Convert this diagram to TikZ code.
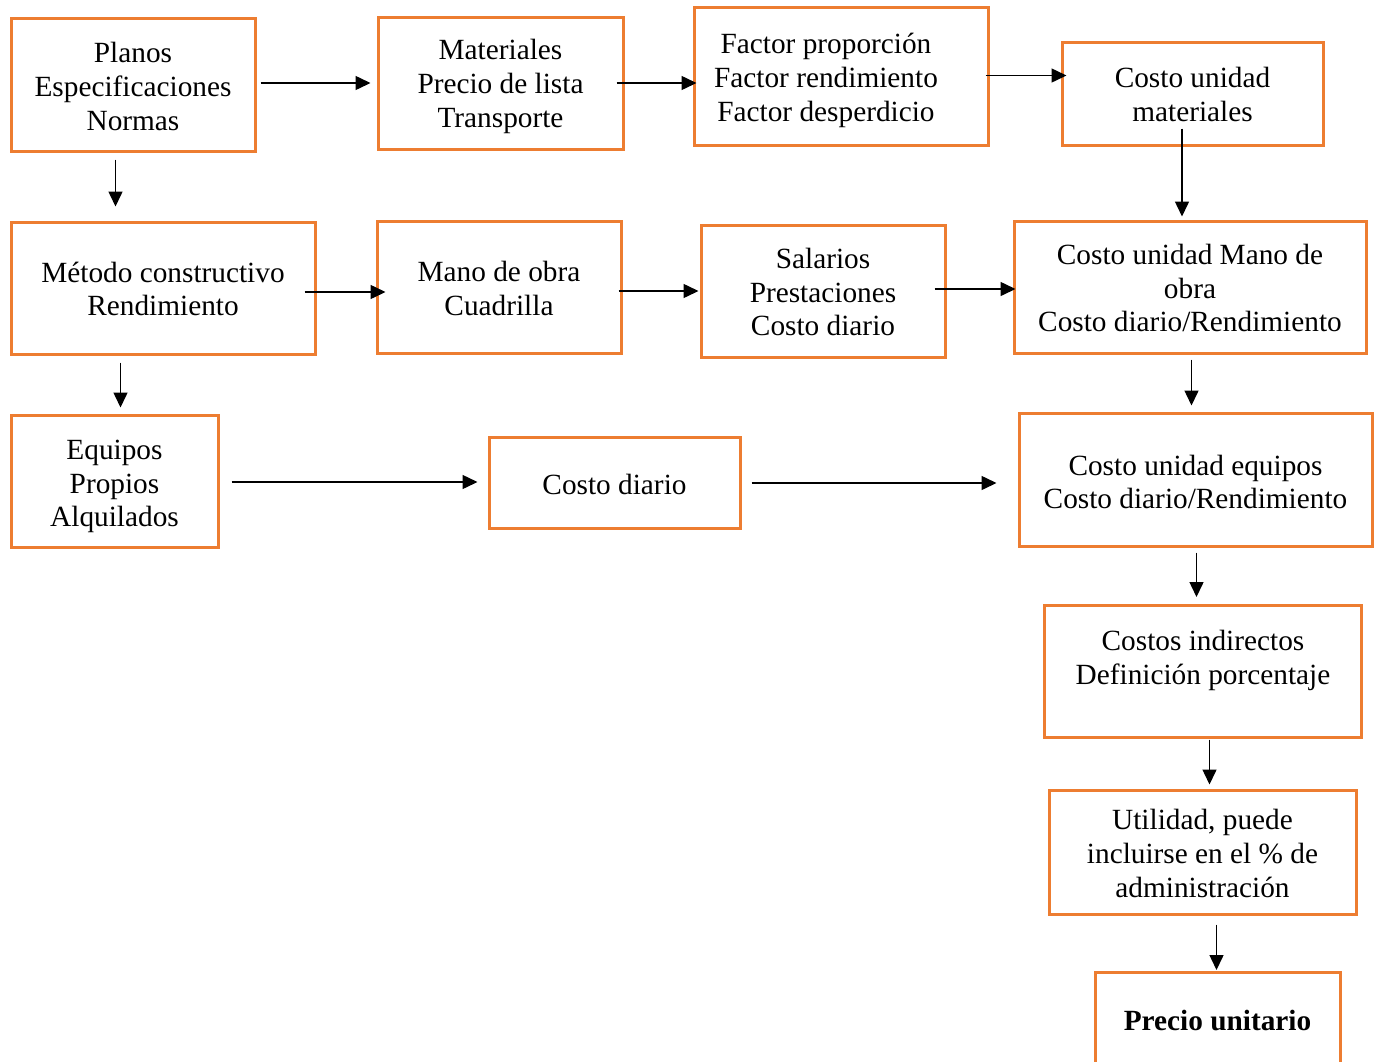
\documentclass[tikz,border=0pt]{standalone}
\usepackage{fontspec}
\setmainfont{Liberation Serif}
\usetikzlibrary{arrows.meta,calc}
\definecolor{boxorange}{HTML}{ED7D31}
\tikzset{
  box/.style={draw=boxorange, line width=3pt, inner sep=0pt},
  txt/.style={align=center, inner sep=0pt, font=\fontsize{29.3}{33.8}\selectfont},
  arr/.style={line width=1.5pt, -{Triangle[length=15pt,width=14pt]}},
}
\begin{document}
\begin{tikzpicture}[x=1pt,y=-1pt]
\useasboundingbox (0,0) rectangle (1379,1061);
\clip (0,0) rectangle (1379,1061);

% first row
\node[box, minimum width=244pt, minimum height=133pt,
      label={[txt, yshift=-2pt]center:{Planos\\Especificaciones\\Normas}}]
  (planos) at (133,84.5) {};
\node[box, minimum width=245pt, minimum height=132pt,
      label={[txt, yshift=-3.5pt]center:{Materiales\\Precio de lista\\Transporte}}]
  (mat) at (500.5,83) {};
\node[box, minimum width=294pt, minimum height=138pt,
      label={[txt, xshift=-15pt, yshift=-4.5pt]center:{Factor proporción\\Factor rendimiento\\Factor desperdicio}}]
  (factor) at (841,76) {};
\node[box, minimum width=261pt, minimum height=103pt,
      label={[txt, yshift=-1pt]center:{Costo unidad\\materiales}}]
  (cmat) at (1192.5,93.5) {};

% second row
\node[box, minimum width=304pt, minimum height=132pt,
      label={[txt, yshift=-1pt]center:{Método constructivo\\Rendimiento}}]
  (metodo) at (163,288) {};
\node[box, minimum width=244pt, minimum height=132pt,
      label={[txt, yshift=-1.5pt]center:{Mano de obra\\Cuadrilla}}]
  (mano) at (499,287) {};
\node[box, minimum width=244pt, minimum height=132pt,
      label={[txt, yshift=-1pt]center:{Salarios\\Prestaciones\\Costo diario}}]
  (sal) at (823,291) {};
\node[box, minimum width=352pt, minimum height=132pt,
      label={[txt, yshift=-1pt]center:{Costo unidad Mano de\\obra\\Costo diario/Rendimiento}}]
  (cumo) at (1190,287) {};

% third row
\node[box, minimum width=207pt, minimum height=132pt,
      label={[txt, yshift=-5.5pt]center:{Equipos\\Propios\\Alquilados}}]
  (equipos) at (114.5,481) {};
\node[box, minimum width=251pt, minimum height=91pt,
      label={[txt, yshift=-2pt]center:{Costo diario}}]
  (cdiario) at (614.5,482.5) {};
\node[box, minimum width=353pt, minimum height=133pt,
      label={[txt, yshift=-2.5pt]center:{Costo unidad equipos\\Costo diario/Rendimiento}}]
  (cue) at (1195.5,479.5) {};

% right-hand column
\node[box, minimum width=317pt, minimum height=132pt,
      label={[txt, yshift=11pt]center:{Costos indirectos\\Definición porcentaje}}]
  (ci) at (1203,671.5) {};
\node[box, minimum width=307pt, minimum height=124pt,
      label={[txt, yshift=-1.5pt]center:{Utilidad, puede\\incluirse en el \% de\\administración}}]
  (util) at (1202.5,852) {};
\node[box, minimum width=245pt, minimum height=96pt,
      label={[txt]center:{\textbf{Precio unitario}}}]
  (precio) at (1217.5,1020) {};

% connectors
\draw[arr] ($(planos.east)+(4,-1.5)$) -- ($(planos.east -| mat.west)+(-6,-1.5)$);
\draw[arr] ($(mat.east)+(-8,0)$) -- ($(mat.east -| factor.west)+(4,0)$);
\draw[arr] ($(factor.east)+(-4,-0.5)$) -- ($(factor.east -| cmat.west)+(6,-0.5)$);
\draw[arr] ($(cmat.south)+(-10.5,-18)$) -- ($(cmat.south |- cumo.north)+(-10.5,-3)$);
\draw[arr] ($(planos.south)+(-17.5,7)$) -- ($(planos.south |- metodo.north)+(-17.5,-14)$);
\draw[arr] ($(metodo.east)+(-12,4)$) -- ($(metodo.east -| mano.west)+(10,4)$);
\draw[arr] ($(mano.east)+(-4,4)$) -- ($(mano.east -| sal.west)+(-1,4)$);
\draw[arr] ($(sal.east)+(-12,-2)$) -- ($(sal.east -| cumo.west)+(3,-2)$);
\draw[arr] ($(metodo.south)+(-42.5,7)$) -- ($(metodo.south |- equipos.north)+(-42.5,-6)$);
\draw[arr] ($(cumo.south)+(1.5,5)$) -- ($(cumo.south |- cue.north)+(1.5,-6)$);
\draw[arr] ($(equipos.east)+(12,1)$) -- ($(equipos.east -| cdiario.west)+(-10,1)$);
\draw[arr] ($(cdiario.east)+(10,0.5)$) -- ($(cdiario.east -| cue.west)+(-21,0.5)$);
\draw[arr] ($(cue.south)+(1,5)$) -- ($(cue.south |- ci.north)+(1,-7)$);
\draw[arr] ($(ci.south)+(6.5,0.5)$) -- ($(ci.south |- util.north)+(6.5,-4)$);
\draw[arr] ($(util.south)+(14,9)$) -- ($(util.south |- precio.north)+(14,-0.5)$);
\end{tikzpicture}
\end{document}
